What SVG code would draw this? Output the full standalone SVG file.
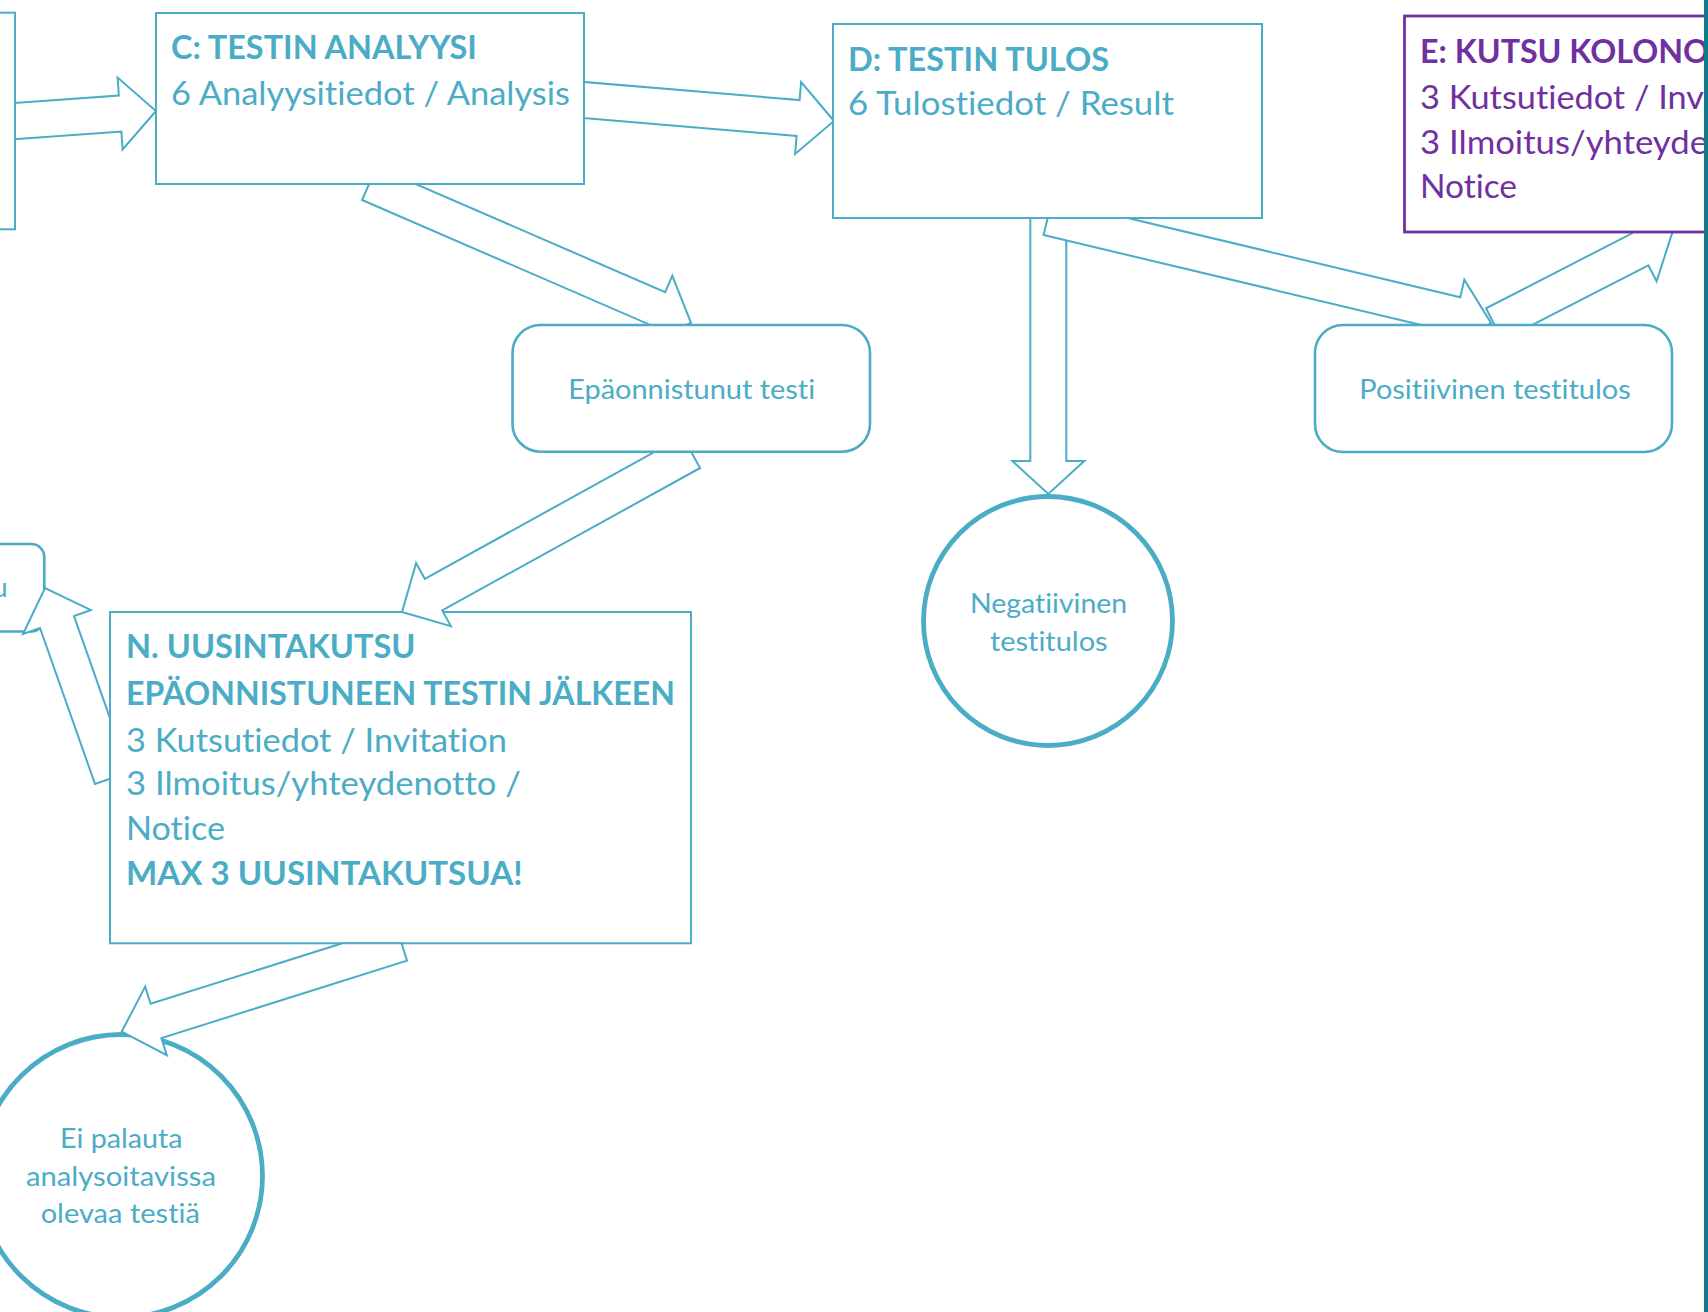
<svg xmlns="http://www.w3.org/2000/svg" width="1708" height="1312" viewBox="0 0 1708 1312">
<style>
.box{fill:#fff;stroke:#4bacc6;stroke-width:2}
.rbox{fill:#fff;stroke:#4bacc6;stroke-width:2.6}
.circ{fill:#fff;stroke:#4bacc6;stroke-width:4.8}
.pbox{fill:#fff;stroke:#7030a0;stroke-width:2.8}
.arrow{fill:#fff;stroke:#4bacc6;stroke-width:2;stroke-linejoin:miter}
.t{font-family:Lato,'Open Sans','DejaVu Sans',sans-serif;fill:#4bacc6;font-variant-ligatures:none;font-feature-settings:"liga" 0,"clig" 0}
.big{font-size:32px}
.sm{font-size:27px}
.b{font-weight:700}
.p{fill:#7030a0}
.mid{text-anchor:middle}
</style>
<rect x="0" y="0" width="1708" height="1312" fill="#fff"/>

<g id="node-left-partial">
<rect class="rbox" x="-30" y="544" width="74.3" height="87.5" rx="13"/>
<text class="t sm" x="7.5" y="597" text-anchor="end">u</text>
</g>

<g id="node-ei-palauta">
<circle class="circ" cx="121" cy="1176" r="141.5"/>
<text class="t sm mid" x="121.3" y="1148.3" textLength="122.7" lengthAdjust="spacingAndGlyphs">Ei palauta</text>
<text class="t sm mid" x="121" y="1185.7" textLength="190" lengthAdjust="spacingAndGlyphs">analysoitavissa</text>
<text class="t sm mid" x="120.3" y="1223.3" textLength="159.3" lengthAdjust="spacingAndGlyphs">olevaa testiä</text>
</g>

<g id="node-N">
<rect class="box" x="110" y="612" width="581" height="331.3"/>
<text class="t big b" x="126" y="658" textLength="289.5" lengthAdjust="spacingAndGlyphs">N. UUSINTAKUTSU</text>
<text class="t big b" x="126" y="705" textLength="549" lengthAdjust="spacingAndGlyphs">EPÄONNISTUNEEN TESTIN JÄLKEEN</text>
<text class="t big" x="126" y="751.7" textLength="381" lengthAdjust="spacingAndGlyphs">3 Kutsutiedot / Invitation</text>
<text class="t big" x="126" y="795" textLength="395" lengthAdjust="spacingAndGlyphs">3 Ilmoitus/yhteydenotto /</text>
<text class="t big" x="126" y="840" textLength="99" lengthAdjust="spacingAndGlyphs">Notice</text>
<text class="t big b" x="126" y="885" textLength="396.5" lengthAdjust="spacingAndGlyphs">MAX 3 UUSINTAKUTSUA!</text>
</g>

<g id="connectors">
<polygon id="arrow-B-C" class="arrow" points="-3.3,140.4 121.4,131.5 122.6,149.5 156,111 117.6,77.6 118.8,95.6 -5.9,104.4"/>
<polygon id="arrow-C-D" class="arrow" points="568.4,116.7 796.6,135.9 795.1,153.9 834,121 801.1,82.1 799.6,100.1 571.4,80.9"/>
<polygon id="arrow-C-fail" class="arrow" points="362.1,200 650.8,325.2 643.7,341.7 691,323 672.3,275.7 665.2,292.2 376.5,167"/>
<polygon id="arrow-fail-N" class="arrow" points="682.7,436.4 424.8,578.8 416.1,563.1 402,612 450.9,626.1 442.2,610.4 700.1,468"/>
<polygon id="arrow-N-left" class="arrow" points="110,718.1 74,616 90.9,610 45,588 23,634 40,628 95,784 110,778.7"/>
<polygon id="arrow-N-ei" class="arrow" points="342.3,943.3 150.6,1003.7 145.2,986.6 121.7,1031.7 166.8,1055.2 161.4,1038.1 407,960.7 401.5,943.3"/>
<polygon id="arrow-D-neg" class="arrow" points="1066.3,200 1066.3,461 1084.3,461 1048.3,494 1012.3,461 1030.3,461 1030.3,200"/>
<polygon id="arrow-D-pos" class="arrow" points="1043.6,235 1451.8,332.2 1447.7,349.7 1491,323 1464.3,279.7 1460.2,297.2 1052,200"/>
<polygon id="arrow-pos-E" class="arrow" points="1502.4,340.3 1648.4,265.3 1656.6,281.3 1672.2,232.9 1623.8,217.3 1632,233.3 1486,308.3"/>
</g>

<g id="node-B">
<rect class="box" x="-10" y="12.7" width="25" height="216.6"/>
</g>

<g id="node-C">
<rect class="box" x="156" y="13" width="428" height="171"/>
<text class="t big b" x="171" y="59" textLength="306" lengthAdjust="spacingAndGlyphs">C: TESTIN ANALYYSI</text>
<text class="t big" x="171" y="105" textLength="399" lengthAdjust="spacingAndGlyphs">6 Analyysitiedot / Analysis</text>
</g>

<g id="node-D">
<rect class="box" x="833" y="24" width="429" height="194"/>
<text class="t big b" x="848" y="71" textLength="261" lengthAdjust="spacingAndGlyphs">D: TESTIN TULOS</text>
<text class="t big" x="848" y="115" textLength="326" lengthAdjust="spacingAndGlyphs">6 Tulostiedot / Result</text>
</g>

<g id="node-E">
<rect class="pbox" x="1404.5" y="16" width="330" height="216"/>
<text class="t big b p" x="1420" y="63.3" textLength="289" lengthAdjust="spacingAndGlyphs">E: KUTSU KOLONO</text>
<text class="t big p" x="1420" y="109.3" textLength="284" lengthAdjust="spacingAndGlyphs">3 Kutsutiedot / Inv</text>
<text class="t big p" x="1420" y="154" textLength="288" lengthAdjust="spacingAndGlyphs">3 Ilmoitus/yhteyde</text>
<text class="t big p" x="1420" y="198.3" textLength="97" lengthAdjust="spacingAndGlyphs">Notice</text>
</g>

<g id="node-fail">
<rect class="rbox" x="512.5" y="325" width="357.5" height="126.7" rx="28"/>
<text class="t sm mid" x="691.7" y="399.3" textLength="247" lengthAdjust="spacingAndGlyphs">Epäonnistunut testi</text>
</g>

<g id="node-pos">
<rect class="rbox" x="1315" y="325" width="357" height="127" rx="28"/>
<text class="t sm mid" x="1495" y="399.3" textLength="271.4" lengthAdjust="spacingAndGlyphs">Positiivinen testitulos</text>
</g>

<g id="node-neg">
<circle class="circ" cx="1048" cy="621" r="124.5"/>
<text class="t sm mid" x="1048.6" y="613.3" textLength="157.3" lengthAdjust="spacingAndGlyphs">Negatiivinen</text>
<text class="t sm mid" x="1048.8" y="651" textLength="117.7" lengthAdjust="spacingAndGlyphs">testitulos</text>
</g>

<rect id="edge-bar" x="1704" y="0" width="4" height="1312" fill="#0f7b8c"/>
</svg>
